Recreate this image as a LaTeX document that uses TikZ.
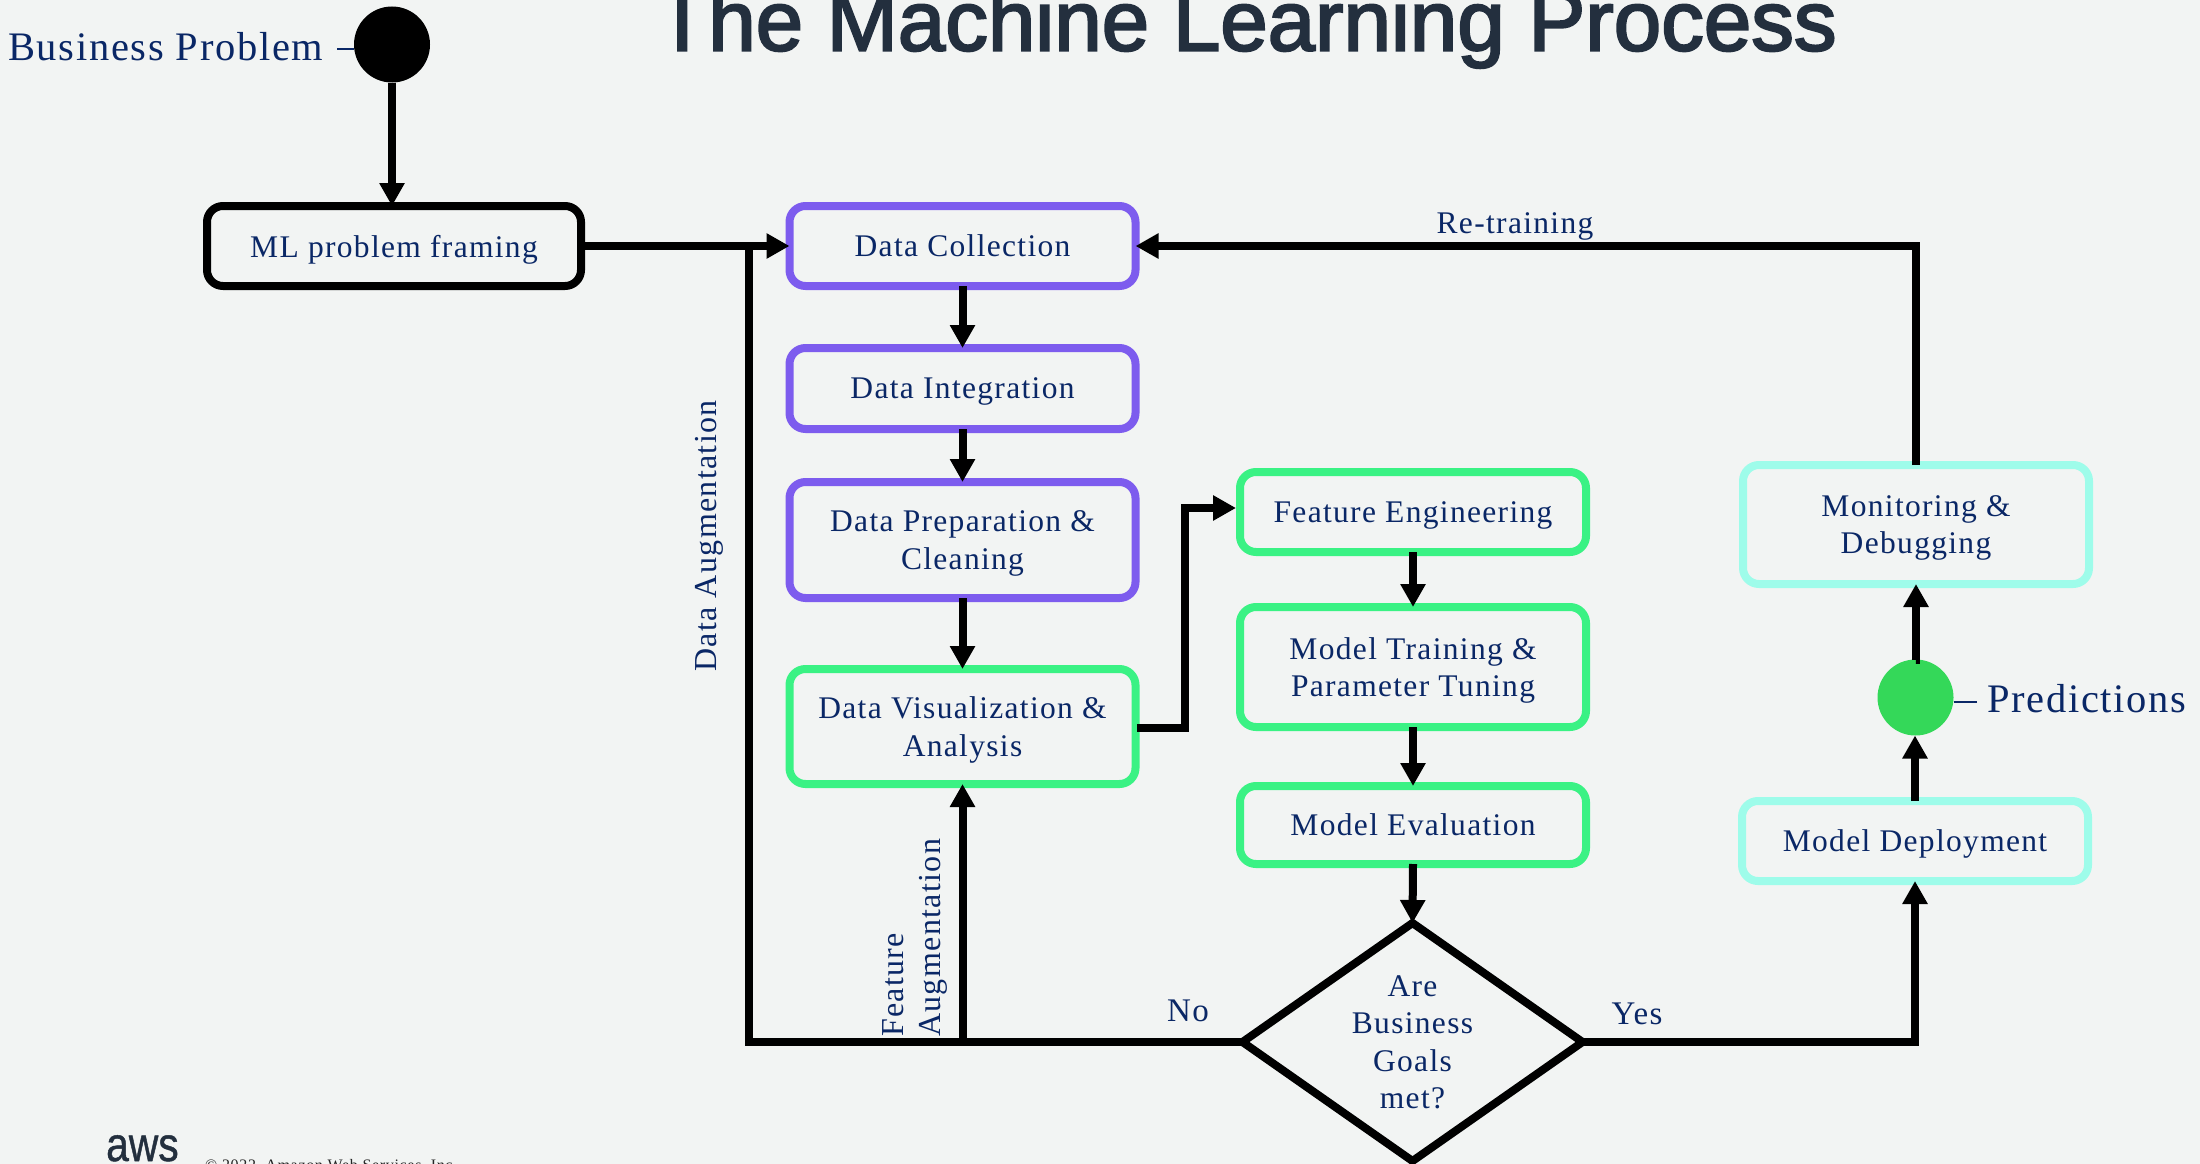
\documentclass[tikz,border=0pt]{standalone}
\usepackage{fontspec}
\setmainfont{Liberation Serif}[LetterSpace=4.2]
\newfontfamily\titlefont{Liberation Sans}[FakeBold=2.5]
\newfontfamily\awsfont{Liberation Sans}[FakeBold=1]
\usetikzlibrary{arrows.meta,shapes.geometric}
\definecolor{pagebg}{HTML}{F2F4F3}
\definecolor{inktext}{HTML}{0A2766}
\definecolor{awsink}{HTML}{232F3E}
\definecolor{boxpurple}{HTML}{7D5CEE}
\definecolor{boxgreen}{HTML}{3AF284}
\definecolor{boxcyan}{HTML}{9EFCEA}
\definecolor{predgreen}{HTML}{34D859}
\tikzset{
  bodyfont/.style={font=\fontsize{31.5}{37.5}\selectfont, text=inktext},
  stepbox/.style={bodyfont, rectangle, rounded corners=16pt, line width=8pt, outer sep=0pt, inner sep=0pt,
    align=center, text depth=0pt, minimum width=346pt},
  darkbox/.style={stepbox, draw=black},
  purplebox/.style={stepbox, draw=boxpurple},
  greenbox/.style={stepbox, draw=boxgreen},
  cyanbox/.style={stepbox, draw=boxcyan},
  decision/.style={bodyfont, diamond, aspect=1.42, draw=black, line width=8pt, outer sep=0pt, inner sep=0pt, align=center,
    text depth=0pt, minimum width=340pt, minimum height=238pt, line join=miter},
  dot/.style={circle, minimum size=76pt, inner sep=0pt, outer sep=0pt},
  conn/.style={draw=black, line width=8pt, line join=miter},
  arrowconn/.style={conn, -{Triangle[length=23pt,width=24pt]}},
  tick/.style={draw=inktext, line width=1.6pt},
  edgelabel/.style={bodyfont, inner sep=0pt},
  biglabel/.style={font=\fontsize{40.5}{48}\selectfont, text=inktext, inner sep=0pt},
}
\begin{document}
\begin{tikzpicture}[x=1pt,y=-1pt]
\fill[pagebg] (0,0) rectangle (2200,1164);
\useasboundingbox (0,0) rectangle (2200,1164);

% title and footer
\node[font=\titlefont\fontsize{85.3}{90}\selectfont, text=awsink, anchor=base, inner sep=0pt] (title) at (1246.5,50.5) {The Machine Learning Process};
\node[font=\awsfont\fontsize{48}{50}\selectfont, text=awsink, anchor=base west, inner sep=0pt, xscale=.85] (aws) at (106,1161) {aws};
\node[font=\fontsize{16}{18}\selectfont, text=black!85, anchor=base west, inner sep=0pt] (copy) at (205,1170.5) {© 2022, Amazon Web Services, Inc.};

% terminals and labels
\node[dot, fill=black] (start) at (392,44.5) {};
\node[dot, fill=predgreen] (pred) at (1915.5,697.5) {};
\node[biglabel, anchor=base west] (bplabel) at (8,60) {Business Problem};
\node[biglabel, anchor=base west] (predlabel) at (1987,712) {Predictions};
\coordinate (bptick) at (337,49);
\coordinate (predtick) at (1977,702);
\draw[tick] (bptick) -- (bptick -| start.west);
\draw[tick] (predtick) -- (predtick -| pred.east);

% process nodes
\node[darkbox, minimum width=374pt, minimum height=80pt] (ml) at (394,246) {ML problem framing};
\node[purplebox, minimum height=80pt] (dc) at (962.5,246) {Data Collection};
\node[purplebox, minimum height=81pt] (di) at (962.5,388.5) {Data Integration};
\node[purplebox, minimum height=116pt] (dp) at (962.5,540) {Data Preparation \&\\Cleaning};
\node[greenbox, minimum height=115pt] (dv) at (962.5,726.5) {Data Visualization \&\\Analysis};
\node[greenbox, minimum height=80pt] (fe) at (1413,512) {Feature Engineering};
\node[greenbox, minimum height=120pt] (mt) at (1413,667) {Model Training \&\\Parameter Tuning};
\node[greenbox, minimum height=78pt] (me) at (1413,825) {Model Evaluation};
\node[decision] (dm) at (1412.5,1042) {Are\\Business\\Goals\\met?};
\node[cyanbox, minimum height=80pt] (md) at (1915,841) {Model Deployment};
\node[cyanbox, minimum height=119pt] (mon) at (1916,524.5) {Monitoring \&\\Debugging};

% connectors
\coordinate (looptop) at (749,246);
\coordinate (dvout) at (1137,728);
\coordinate (febend) at (1185,508);
\coordinate (fetip) at (1236,508);
\draw[arrowconn] (start.south) -- (start.south |- ml.north);
\draw[arrowconn] (ml.east) -- (dc.west);
\draw[arrowconn] (dc.south) -- (di.north);
\draw[arrowconn] (di.south) -- (dp.north);
\draw[arrowconn] (dp.south) -- (dv.north);
\draw[arrowconn] (dvout) -| (febend) -- (fetip);
\draw[arrowconn] (fe.south) -- (mt.north);
\draw[arrowconn] (mt.south) -- (me.north);
\draw[arrowconn] (me.south) -- (dm.north);
\draw[conn] (dm.west) -| (looptop);
\draw[arrowconn] (dv.south |- dm.west) -- (dv.south);
\draw[arrowconn] (dm.east) -| (md.south);
\draw[arrowconn] (md.north) -- (md.north |- pred.south);
\draw[arrowconn] (pred.north) -- (pred.north -| mon.south) -- (mon.south);
\draw[arrowconn] (mon.north) |- (dc.east);

% connector labels
\node[edgelabel, anchor=base] (retrain) at (1515,233) {Re-training};
\node[edgelabel, font=\fontsize{33}{38}\selectfont, anchor=base] (nolabel) at (1188,1021) {No};
\node[edgelabel, font=\fontsize{33}{38}\selectfont, anchor=base] (yeslabel) at (1637,1024) {Yes};
\node[edgelabel, font=\fontsize{32}{37}\selectfont, rotate=90, anchor=base] (dalabel) at (716,536) {Data Augmentation};
\node[edgelabel, font=\fontsize{32}{37}\selectfont, rotate=90, anchor=south west, align=left] (falabel) at (947.5,1037) {Feature\\Augmentation};
\end{tikzpicture}
\end{document}
